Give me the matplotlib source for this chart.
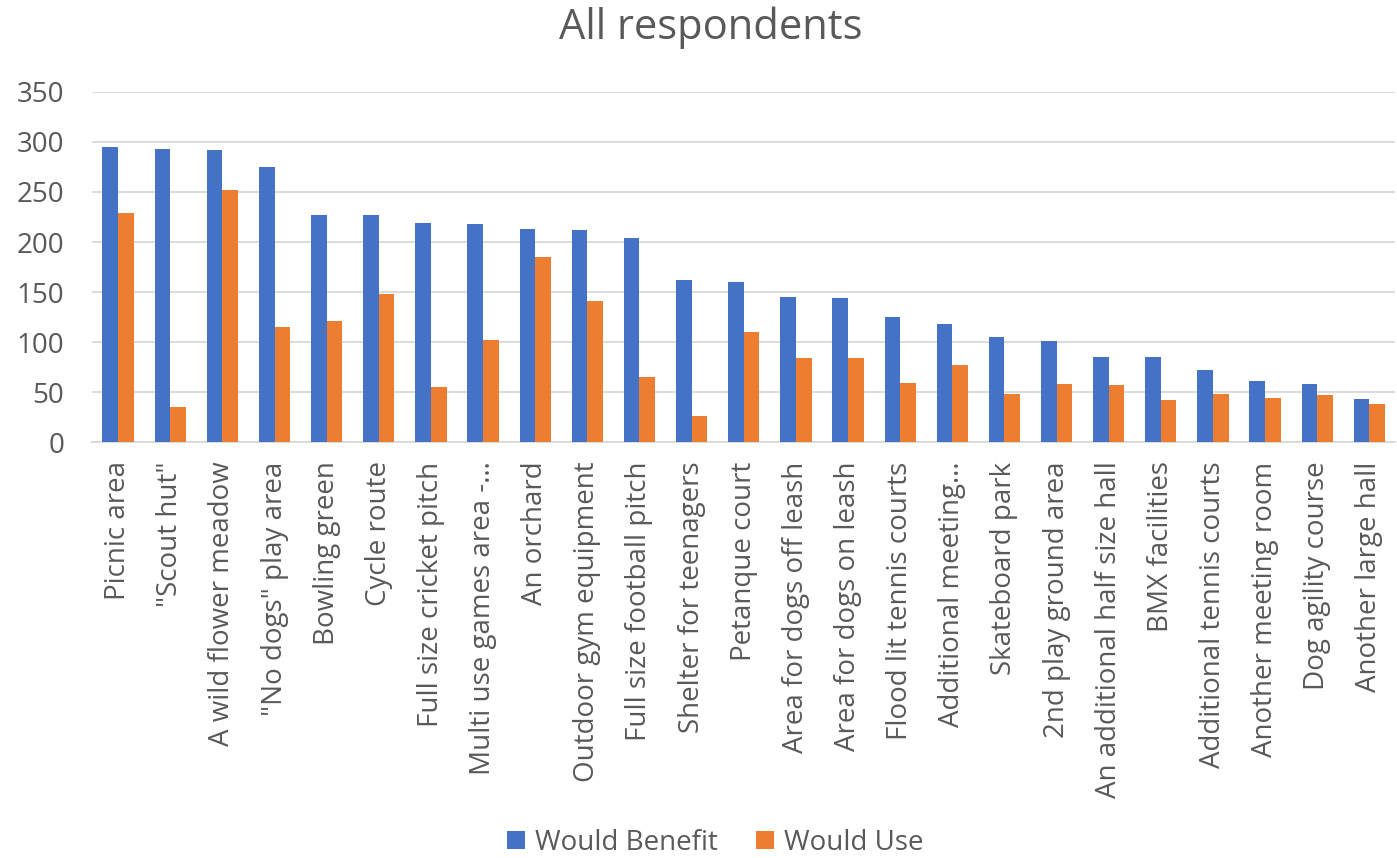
import numpy as np
import matplotlib
matplotlib.use("Agg")
import matplotlib.pyplot as plt

plt.rcParams['font.family'] = ['Open Sans', 'DejaVu Sans']

categories = ['Picnic area', '"Scout hut"', 'A wild flower meadow', '"No dogs" play area',
              'Bowling green', 'Cycle route', 'Full size cricket pitch',
              'Multi use games area -\u2026', 'An orchard', 'Outdoor gym equipment',
              'Full size football pitch', 'Shelter for teenagers', 'Petanque court',
              'Area for dogs off leash', 'Area for dogs on leash', 'Flood lit tennis courts',
              'Additional meeting\u2026', 'Skateboard park', '2nd play ground area',
              'An additional half size hall', 'BMX facilities', 'Additional tennis courts',
              'Another meeting room', 'Dog agility course', 'Another large hall']
would_benefit = [295, 293, 292, 275, 227, 227, 219, 218, 213, 212, 204, 162, 160,
                 145, 144, 125, 118, 105, 101, 85, 85, 72, 61, 58, 43]
would_use = [229, 35, 252, 115, 121, 148, 55, 102, 185, 141, 65, 26, 110,
             84, 84, 59, 77, 48, 58, 57, 42, 48, 44, 47, 38]

text_col = '#595959'
blue = '#4472C4'
orange = '#ED7D31'

fig = plt.figure(figsize=(13.97, 8.58), dpi=100)
ax = fig.add_axes([0.0659, 0.4848, 0.933, 0.408])

x = np.arange(len(categories))
w = 0.3
ax.bar(x - w / 2, would_benefit, w, color=blue, label='Would Benefit', zorder=3)
ax.bar(x + w / 2, would_use, w, color=orange, label='Would Use', zorder=3)

ax.set_xlim(-0.5, len(categories) - 0.5)
ax.set_ylim(0, 350)
ax.set_yticks(range(0, 351, 50))
ax.grid(axis='y', color='#D9D9D9', linewidth=1.3, zorder=0)
for s in ['top', 'right', 'left']:
    ax.spines[s].set_visible(False)
ax.spines['bottom'].set_color('#D9D9D9')
ax.spines['bottom'].set_linewidth(1.3)

ax.set_xticks(x)
ax.set_xticklabels(categories, rotation=90, fontsize=20, color=text_col)
ax.tick_params(axis='x', length=0, pad=14)
ax.tick_params(axis='y', length=0, pad=20, labelsize=20, labelcolor=text_col)

fig.text(0.509, 0.968, 'All respondents', ha='center', va='center', fontsize=30, color=text_col)

fig.legend(loc='center', bbox_to_anchor=(0.512, 0.018), ncol=2, frameon=False,
           fontsize=20, labelcolor=text_col, handlelength=0.65, handleheight=0.65,
           columnspacing=1.4, handletextpad=0.35)

fig.savefig('out.png', dpi=100)
